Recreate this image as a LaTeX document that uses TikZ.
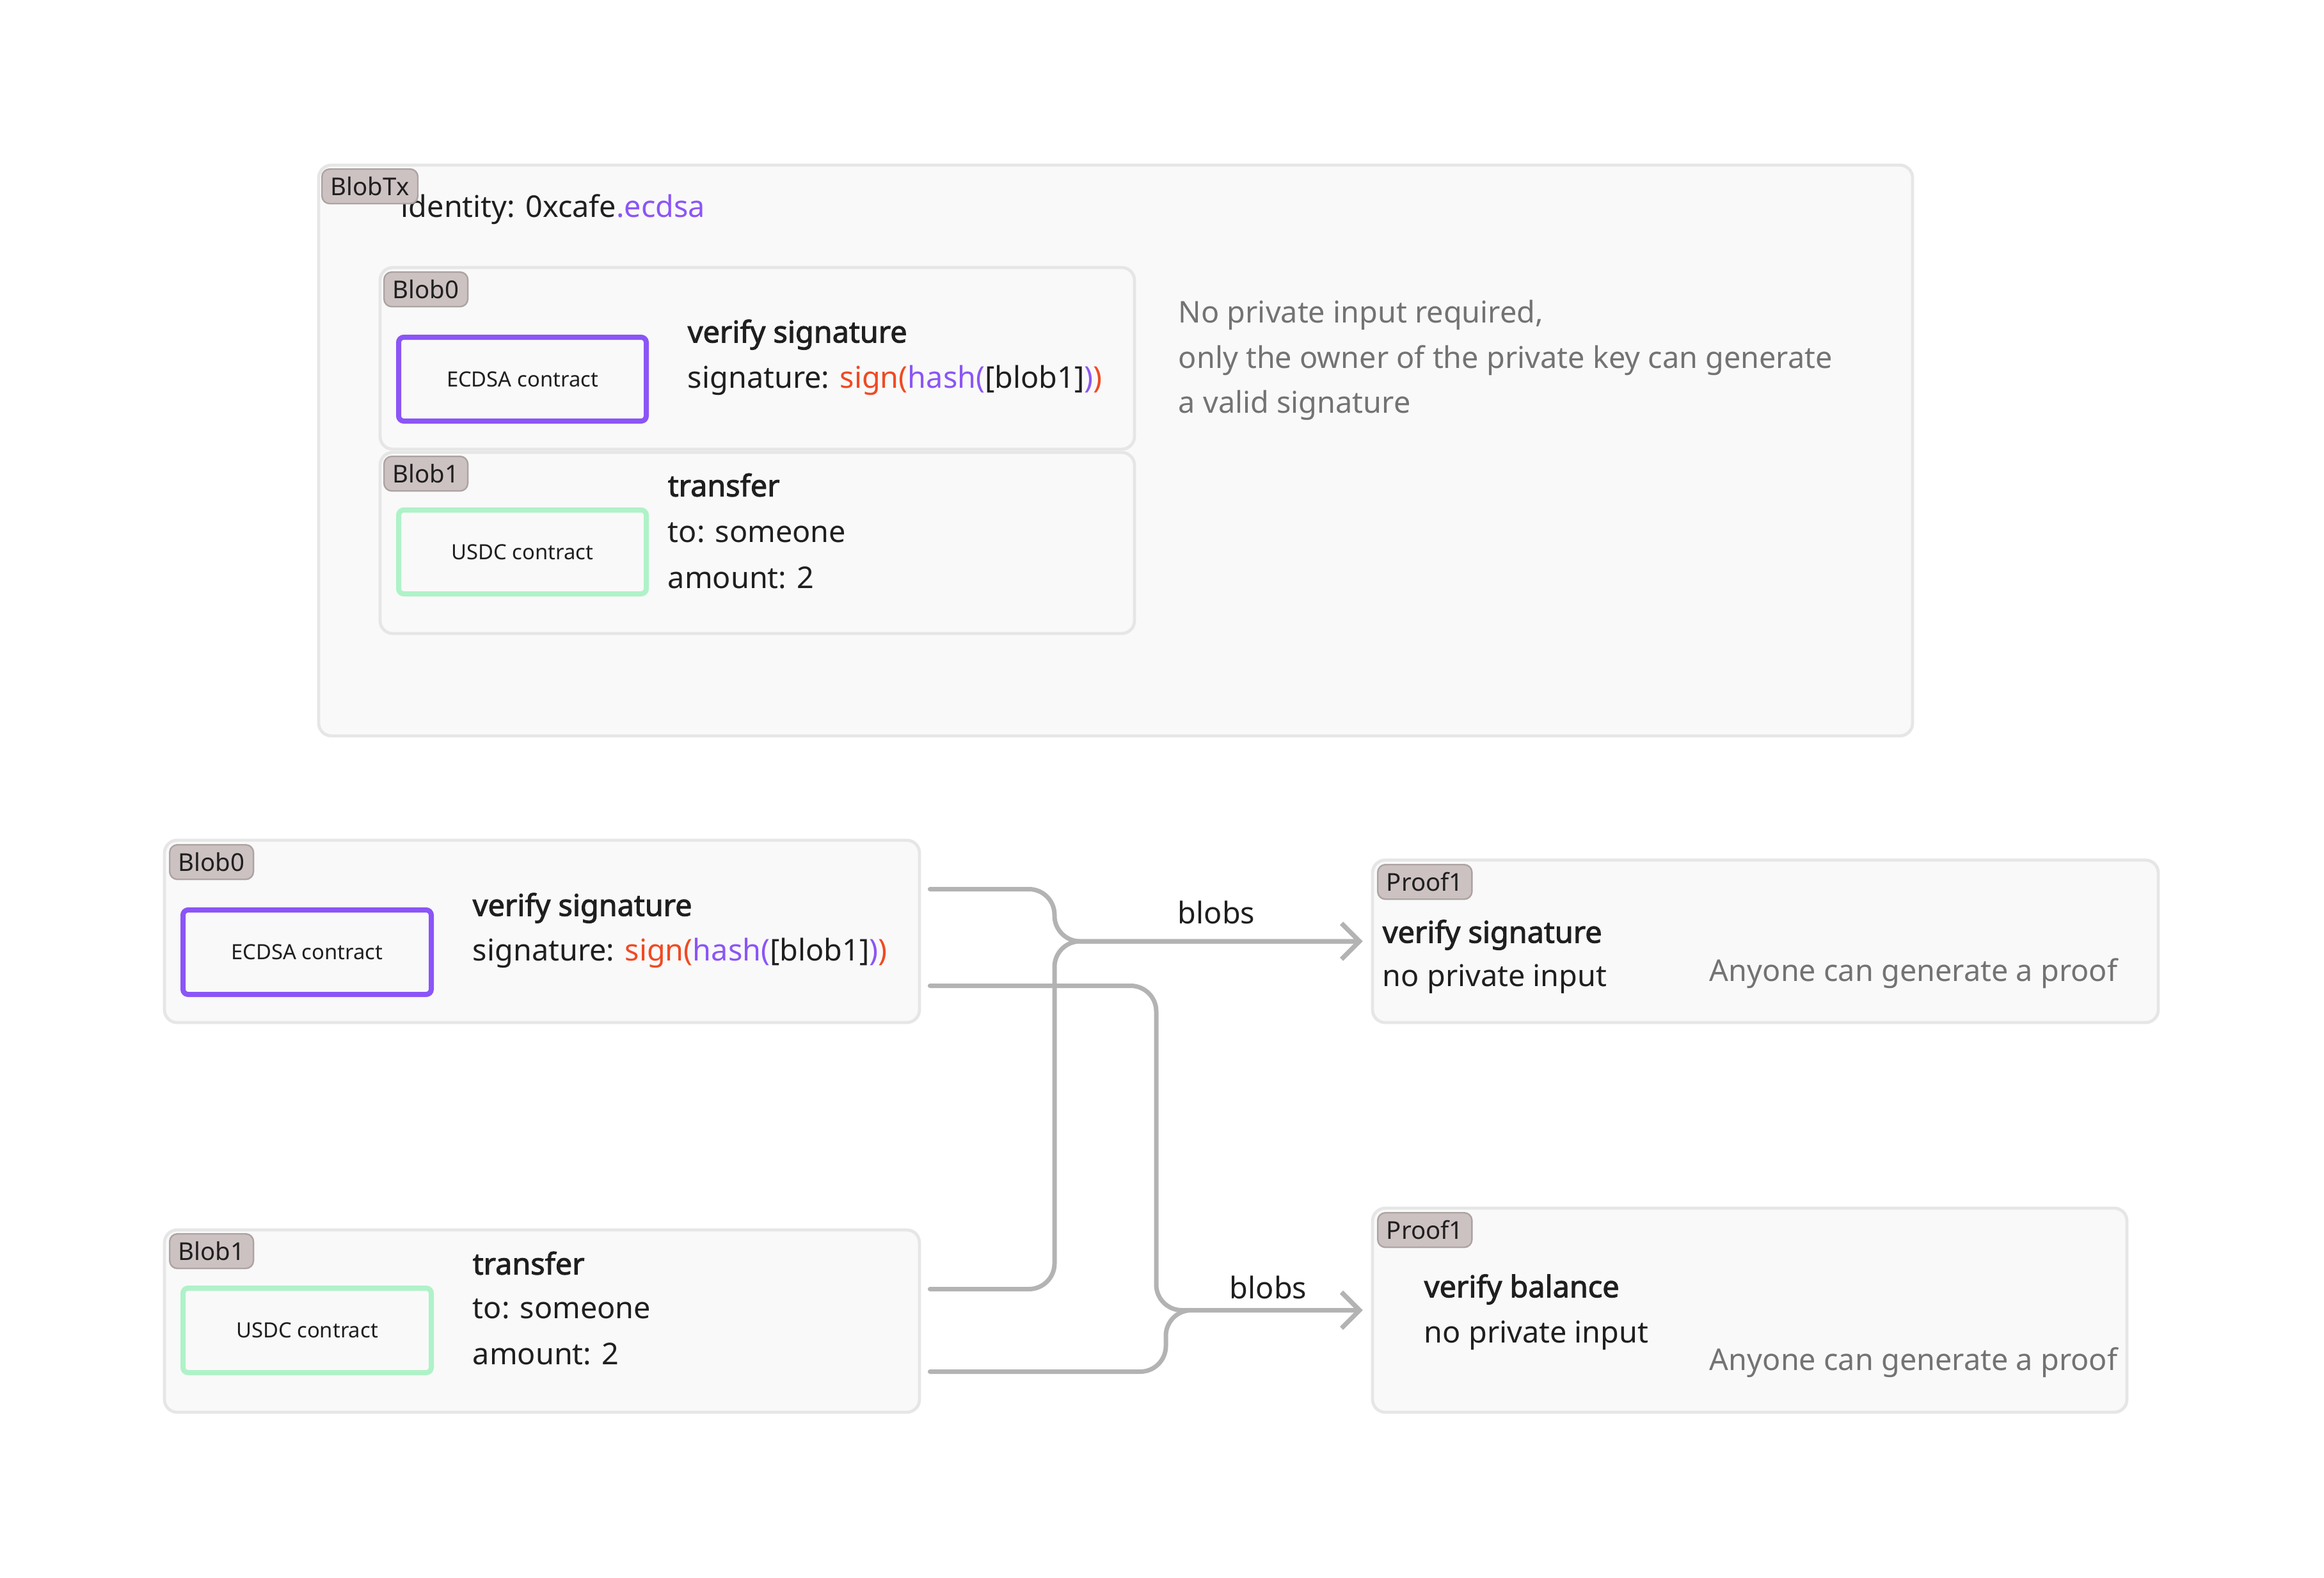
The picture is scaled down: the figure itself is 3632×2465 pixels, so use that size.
\documentclass[tikz,border=0pt]{standalone}
\usepackage{fontspec}
\setmainfont{Noto Sans}[BoldFont={Noto Sans}, BoldFeatures={FakeBold=2.2}]
\usetikzlibrary{arrows.meta,fit,calc}

\definecolor{panelFill}{HTML}{F9F9F9}
\definecolor{panelLine}{HTML}{E6E6E6}
\definecolor{tagFill}{HTML}{CDC2C2}
\definecolor{tagLine}{HTML}{ADA3A3}
\definecolor{ecdsaPurple}{HTML}{8B55F7}
\definecolor{usdcGreen}{HTML}{AFF2C8}
\definecolor{signRed}{HTML}{F04A23}
\definecolor{noteGrey}{HTML}{737373}
\definecolor{wireGrey}{HTML}{B3B3B3}
\definecolor{inkBlack}{HTML}{1F1F1F}

\newcommand\bodyFont{\fontsize{11.7}{14}\selectfont}
\newcommand\sgn[1]{\textcolor{signRed}{#1}}
\newcommand\hsh[1]{\textcolor{ecdsaPurple}{#1}}

\tikzset{
  panel/.style={draw=panelLine, fill=panelFill, line width=1.2pt, rounded corners=5pt, inner sep=0pt},
  tagbox/.style={draw=tagLine, fill=tagFill, line width=0.6pt, rounded corners=3pt,
    anchor=north west, minimum height=13.5pt, inner xsep=3.4pt, inner ysep=0pt,
    font=\fontsize{9.6}{10}\selectfont, text=inkBlack},
  contract/.style={fill=panelFill, line width=2pt, rounded corners=2pt, inner sep=0pt},
  ctext/.style={font=\fontsize{8.2}{9}\selectfont, text=inkBlack},
  body/.style={anchor=west, inner sep=0pt, font=\bodyFont, text=inkBlack},
  note/.style={anchor=west, inner sep=0pt, font=\bodyFont, text=noteGrey},
  wire/.style={draw=wireGrey, line width=1.75pt, rounded corners=10pt, line cap=round,
    -{Straight Barb[length=7pt,width=14pt,line width=1.75pt]}},
}

\begin{document}
\begin{tikzpicture}[x=0.25pt,y=-0.25pt]
  \useasboundingbox (0,0) rectangle (3632,2465);

  % blob transaction
  \node[panel, fit={(498,258)(2989,1150)}] (tx) {};
  \node[body] (identity) at (626,327) {identity: 0xcafe\hsh{.ecdsa}};
  \node[tagbox] (txTag) at (502,263) {BlobTx};

  \node[panel, fit={(594,418)(1773,702)}] (txBlobA) {};
  \node[tagbox] (txTagA) at (599,424) {Blob0};
  \node[contract, draw=ecdsaPurple, fit={(623,527)(1010,658)},
    label={[ctext]center:ECDSA contract}] (txEcdsa) {};
  \node[body] (txVerify) at (1074,523) {\textbf{verify signature}};
  \node[body] (txSig) at (1074,594) {signature: \sgn{sign(}\hsh{hash(}[blob1]\hsh{)}\sgn{)}};

  \node[panel, fit={(594,707)(1773,990)}] (txBlobB) {};
  \node[tagbox] (txTagB) at (599,712) {Blob1};
  \node[contract, draw=usdcGreen, fit={(623,797)(1010,928)},
    label={[ctext]center:USDC contract}] (txUsdc) {};
  \node[body] (txTransfer) at (1043,758) {\textbf{transfer}};
  \node[body] (txTo) at (1043,832) {to: someone};
  \node[body] (txAmount) at (1043,903) {amount: 2};

  \node[note] (noteA) at (1841,492) {No private input required,};
  \node[note] (noteB) at (1841,563) {only the owner of the private key can generate};
  \node[note] (noteC) at (1841,633) {a valid signature};

  % split blobs
  \node[panel, fit={(257,1313)(1437,1598)}] (blobA) {};
  \node[tagbox] (tagA) at (264,1319) {Blob0};
  \node[contract, draw=ecdsaPurple, fit={(286,1422)(674,1554)},
    label={[ctext]center:ECDSA contract}] (ecdsa) {};
  \node[body] (verifyA) at (738,1419) {\textbf{verify signature}};
  \node[body] (sigA) at (738,1489) {signature: \sgn{sign(}\hsh{hash(}[blob1]\hsh{)}\sgn{)}};

  \node[panel, fit={(257,1922)(1437,2207)}] (blobB) {};
  \node[tagbox] (tagB) at (264,1927) {Blob1};
  \node[contract, draw=usdcGreen, fit={(286,2013)(674,2145)},
    label={[ctext]center:USDC contract}] (usdc) {};
  \node[body] (transferB) at (738,1974) {\textbf{transfer}};
  \node[body] (toB) at (738,2045) {to: someone};
  \node[body] (amountB) at (738,2116) {amount: 2};

  % proofs
  \node[panel, fit={(2145,1344)(3373,1598)}] (proofA) {};
  \node[tagbox] (ptagA) at (2152,1350) {Proof1};
  \node[body] (pVerifyA) at (2160,1461) {\textbf{verify signature}};
  \node[body] (pInputA) at (2160,1530) {no private input};
  \node[note, anchor=east] (pNoteA) at (3310,1521) {Anyone can generate a proof};

  \node[panel, fit={(2145,1888)(3324,2207)}] (proofB) {};
  \node[tagbox] (ptagB) at (2152,1894) {Proof1};
  \node[body] (pVerifyB) at (2225,2015) {\textbf{verify balance}};
  \node[body] (pInputB) at (2225,2087) {no private input};
  \node[note, anchor=east] (pNoteB) at (3310,2129) {Anyone can generate a proof};

  % wires
  \coordinate (outA1) at ($(blobA.east)+(14,-66)$);
  \coordinate (outA2) at ($(blobA.east)+(14,85)$);
  \coordinate (outB1) at ($(blobB.east)+(14,-50)$);
  \coordinate (outB2) at ($(blobB.east)+(14,79)$);
  \coordinate (inA) at ($(proofA.west)+(-13,0)$);
  \coordinate (inB) at ($(proofB.west)+(-13,0)$);

  \draw[wire] (outA1) -- (outA1 -| 1648,0) -- (1648,0 |- inA) -- (inA);
  \draw[wire] (outB1) -- (outB1 -| 1648,0) -- (1648,0 |- inA) -- (inA);
  \draw[wire] (outA2) -- (outA2 -| 1807,0) -- (1807,0 |- inB) -- (inB);
  \draw[wire] (outB2) -- (outB2 -| 1822,0) -- (1822,0 |- inB) -- (inB);

  \node[font=\bodyFont, text=inkBlack] (blobsA) at (1901,1426) {blobs};
  \node[font=\bodyFont, text=inkBlack] (blobsB) at (1982,2012) {blobs};
\end{tikzpicture}
\end{document}
